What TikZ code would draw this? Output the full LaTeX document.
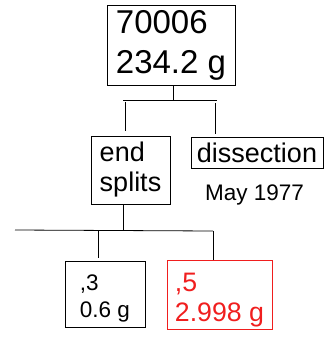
\documentclass[tikz,border=0pt]{standalone}
\usepackage{fontspec}
\setmainfont{Liberation Sans}
\definecolor{fragred}{RGB}{240,30,30}
\begin{document}
\begin{tikzpicture}[x=1pt,y=-1pt,
  box/.style={draw,line width=0.8pt,align=left,inner sep=0pt},
  conn/.style={line width=0.8pt}]
\useasboundingbox (0,0) rectangle (329,339);
% boxes
\node[box,minimum width=128pt,minimum height=80pt,font=\fontsize{33}{40}\selectfont] (top) at (171,45) {70006\\234.2 g};
\node[box,minimum width=79pt,minimum height=68pt,font=\fontsize{27}{30}\selectfont] (ends) at (130.5,170) {end\\splits};
\node[box,minimum width=132pt,minimum height=31pt,font=\fontsize{27}{30}\selectfont] (diss) at (257,152.5) {dissection};
\node[anchor=base west,inner sep=0pt,font=\fontsize{22.5}{27}\selectfont] (date) at (205,200) {May 1977};
\node[box,minimum width=80pt,minimum height=66pt,font=\fontsize{22.5}{27}\selectfont] (p3) at (105,294) {\rule{0pt}{24pt},3\\0.6 g};
\node[box,draw=fragred,text=fragred,minimum width=105pt,minimum height=69pt,font=\fontsize{26.7}{30}\selectfont] (p5) at (219.5,294.5) {\rule{0pt}{29pt},5\\2.998 g};
% connector coordinates
\coordinate (ja) at (173,100);
\coordinate (hal) at (123,100);
\coordinate (har) at (217,100);
\coordinate (la) at (125,102);
\coordinate (lb) at (125,131);
\coordinate (ra) at (215,103);
\coordinate (rb) at (215,134);
\coordinate (jb) at (123,230);
\coordinate (hbl) at (15,230);
\coordinate (hbr) at (213,231);
\coordinate (lc) at (98,231);
\coordinate (ld) at (98,258);
\coordinate (rc) at (213,231);
% connectors
\draw[conn] (top.south -| ja) -- (ja);
\draw[conn] (hal) -- (har);
\draw[conn] (la) -- (lb);
\draw[conn] (ra) -- (rb);
\draw[conn] (ends.south -| jb) -- (jb);
\draw[conn] (hbl) -- (hbr);
\draw[conn] (lc) -- (ld);
\draw[conn] (rc) -- (p5.north -| rc);
\end{tikzpicture}
\end{document}
